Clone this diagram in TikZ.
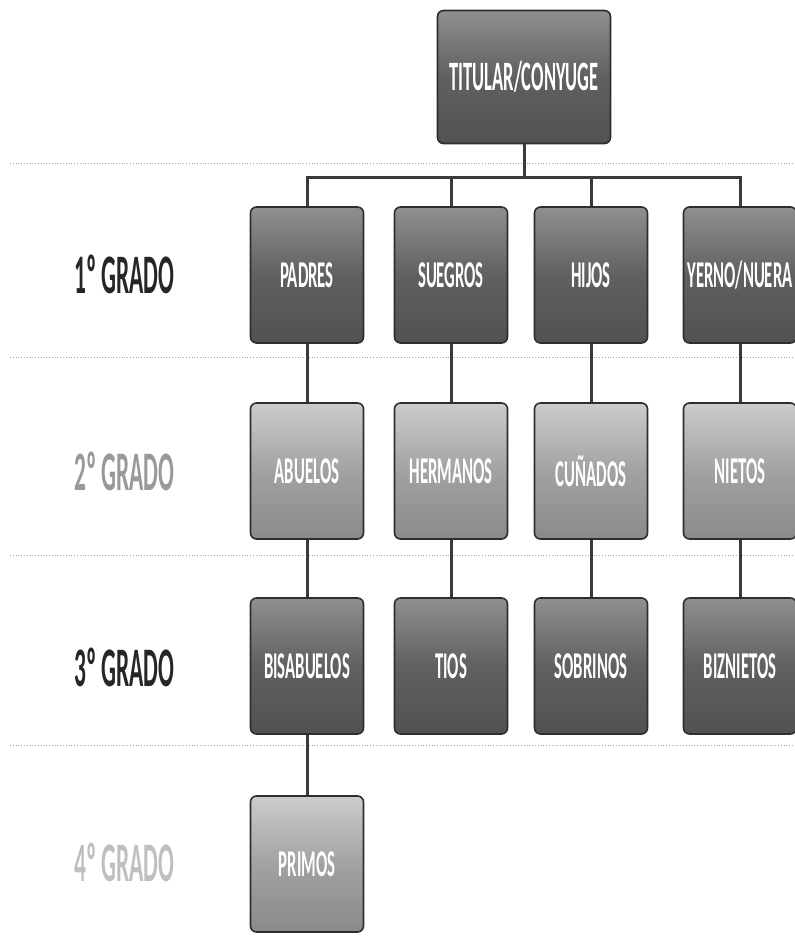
\documentclass[tikz,border=0pt]{standalone}
\usepackage{fontspec}
\newfontfamily\lblfont[FakeStretch=0.42]{Carlito}
\newfontfamily\boxfont[FakeStretch=0.44]{Carlito}
\definecolor{darkbox}{HTML}{606060}
\definecolor{lightbox}{HTML}{A2A2A2}
\definecolor{edge}{HTML}{2E2E2E}
\definecolor{conn}{HTML}{3A3A3A}
\begin{document}
\begin{tikzpicture}[x=1bp,y=-1bp,
  famdark/.style={draw=edge, line width=1.6bp, rounded corners=6bp,
    top color=darkbox!70!white, bottom color=darkbox!85!black, middle color=darkbox,
    minimum width=113bp, minimum height=136bp, inner sep=0pt,
    text=white, font=\boxfont\bfseries\fontsize{38}{40}\selectfont},
  famlight/.style={famdark, top color=lightbox!55!white, bottom color=lightbox!85!black, middle color=lightbox},
  grado/.style={anchor=west, inner sep=0pt, font=\lblfont\bfseries\fontsize{56}{58}\selectfont},
  sep/.style={draw=gray!70, line width=0.8bp, dotted},
  link/.style={draw=conn, line width=3bp}]
\useasboundingbox (0,0) rectangle (795,937);
% separators
\draw[sep] (10,163) -- (795,163);
\draw[sep] (10,357) -- (795,357);
\draw[sep] (10,555) -- (795,555);
\draw[sep] (10,745) -- (795,745);
% grade labels
\node[grado, text=black!85] (g1) at (74,274) {1º GRADO};
\node[grado, text=black!40] (g2) at (74,471) {2º GRADO};
\node[grado, text=black!85] (g3) at (74,667) {3º GRADO};
\node[grado, text=black!25] (g4) at (74,862) {4º GRADO};
% boxes
\node[famdark, minimum width=173bp, minimum height=133bp, font=\boxfont\bfseries\fontsize{42}{44}\selectfont] (tit) at (524,77) {TITULAR/CONYUGE};
\node[famdark] (padres) at (307,275) {PADRES};
\node[famdark] (suegros) at (451,275) {SUEGROS};
\node[famdark] (hijos) at (591,275) {HIJOS};
\node[famdark] (yerno) at (740,275) {YERNO/NUERA};
\node[famlight] (abuelos) at (307,471) {ABUELOS};
\node[famlight] (hermanos) at (451,471) {HERMANOS};
\node[famlight] (cunados) at (591,471) {CUÑADOS};
\node[famlight] (nietos) at (740,471) {NIETOS};
\node[famdark] (bisabuelos) at (307,666) {BISABUELOS};
\node[famdark] (tios) at (451,666) {TIOS};
\node[famdark] (sobrinos) at (591,666) {SOBRINOS};
\node[famdark] (biznietos) at (740,666) {BIZNIETOS};
\node[famlight] (primos) at (307,864) {PRIMOS};
% connectors
\coordinate (bar) at (524,177);
\draw[link] (tit.south) -- (bar);
\draw[link] (padres.north) |- (bar);
\draw[link] (suegros.north) |- (bar);
\draw[link] (hijos.north) |- (bar);
\draw[link] (yerno.north) |- (bar);
\draw[link] (padres) -- (abuelos);
\draw[link] (suegros) -- (hermanos);
\draw[link] (hijos) -- (cunados);
\draw[link] (yerno) -- (nietos);
\draw[link] (abuelos) -- (bisabuelos);
\draw[link] (hermanos) -- (tios);
\draw[link] (cunados) -- (sobrinos);
\draw[link] (nietos) -- (biznietos);
\draw[link] (bisabuelos) -- (primos);
\end{tikzpicture}
\end{document}
